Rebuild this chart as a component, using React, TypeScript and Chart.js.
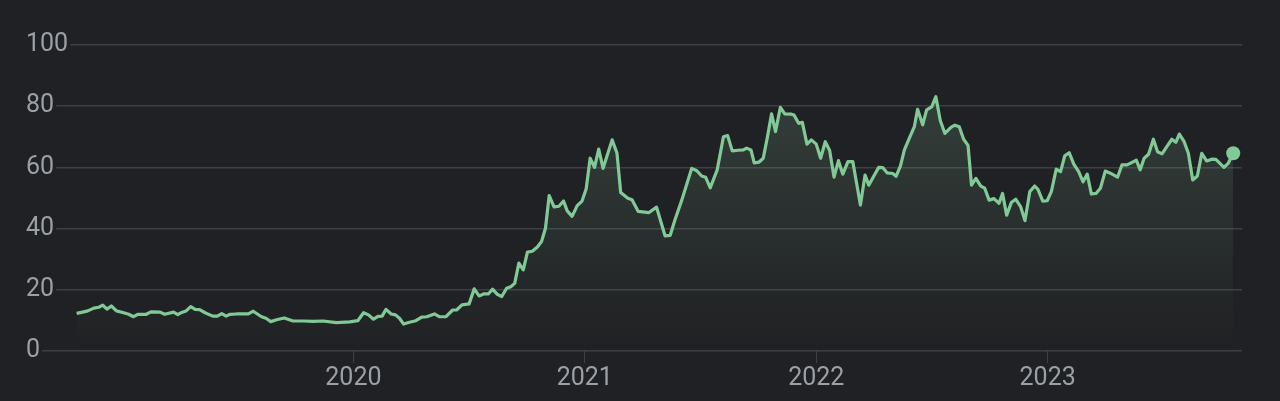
import React, { useEffect, useRef } from "react";
import { Chart, registerables } from "chart.js";

Chart.register(...registerables);

// Decimal-year dates of each observation
const dates: number[] = [
  2018.804, 2018.835, 2018.852, 2018.878, 2018.900, 2018.917, 2018.935, 2018.954, 2018.976, 2019.007,
  2019.029, 2019.050, 2019.068, 2019.105, 2019.125, 2019.165, 2019.184, 2019.223, 2019.241, 2019.258,
  2019.277, 2019.297, 2019.316, 2019.335, 2019.359, 2019.392, 2019.412, 2019.431, 2019.450, 2019.467,
  2019.495, 2019.546, 2019.567, 2019.603, 2019.622, 2019.643, 2019.668, 2019.701, 2019.739, 2019.783,
  2019.826, 2019.869, 2019.926, 2019.984, 2020.019, 2020.044, 2020.065, 2020.087, 2020.106, 2020.124,
  2020.141, 2020.163, 2020.182, 2020.199, 2020.217, 2020.242, 2020.270, 2020.295, 2020.317, 2020.350,
  2020.371, 2020.400, 2020.429, 2020.446, 2020.469, 2020.500, 2020.522, 2020.543, 2020.565, 2020.584,
  2020.601, 2020.622, 2020.641, 2020.662, 2020.680, 2020.697, 2020.715, 2020.734, 2020.752, 2020.773,
  2020.795, 2020.813, 2020.830, 2020.846, 2020.867, 2020.888, 2020.908, 2020.924, 2020.945, 2020.967,
  2020.988, 2021.006, 2021.023, 2021.042, 2021.060, 2021.079, 2021.118, 2021.139, 2021.155, 2021.186,
  2021.204, 2021.231, 2021.276, 2021.310, 2021.347, 2021.369, 2021.390, 2021.419, 2021.462, 2021.484,
  2021.505, 2021.522, 2021.542, 2021.572, 2021.599, 2021.617, 2021.637, 2021.663, 2021.685, 2021.699,
  2021.718, 2021.732, 2021.752, 2021.771, 2021.788, 2021.807, 2021.824, 2021.845, 2021.864, 2021.893,
  2021.904, 2021.924, 2021.940, 2021.960, 2021.979, 2022.000, 2022.019, 2022.039, 2022.058, 2022.077,
  2022.096, 2022.115, 2022.137, 2022.158, 2022.191, 2022.211, 2022.227, 2022.249, 2022.270, 2022.288,
  2022.307, 2022.331, 2022.345, 2022.364, 2022.381, 2022.402, 2022.424, 2022.438, 2022.460, 2022.477,
  2022.499, 2022.517, 2022.536, 2022.556, 2022.582, 2022.599, 2022.618, 2022.637, 2022.656, 2022.671,
  2022.690, 2022.711, 2022.728, 2022.747, 2022.768, 2022.790, 2022.805, 2022.823, 2022.843, 2022.862,
  2022.883, 2022.902, 2022.923, 2022.944, 2022.958, 2022.979, 2022.998, 2023.016, 2023.037, 2023.056,
  2023.074, 2023.093, 2023.113, 2023.134, 2023.153, 2023.171, 2023.189, 2023.209, 2023.228, 2023.249,
  2023.271, 2023.302, 2023.321, 2023.343, 2023.361, 2023.383, 2023.400, 2023.417, 2023.436, 2023.457,
  2023.475, 2023.494, 2023.515, 2023.537, 2023.554, 2023.569, 2023.590, 2023.608, 2023.627, 2023.647,
  2023.666, 2023.687, 2023.709, 2023.727, 2023.762, 2023.780, 2023.802,
];

const prices: number[] = [
  12.3, 12.8, 13.1, 14.0, 14.3, 15.0, 13.7, 14.7, 13.1, 12.5,
  12.0, 11.2, 12.0, 12.0, 12.8, 12.7, 12.0, 12.7, 11.9, 12.6,
  13.1, 14.5, 13.6, 13.5, 12.5, 11.4, 11.4, 12.2, 11.4, 12.0,
  12.1, 12.1, 13.0, 11.2, 10.7, 9.6, 10.2, 10.8, 9.8, 9.8,
  9.7, 9.8, 9.3, 9.5, 9.9, 12.5, 11.8, 10.4, 11.3, 11.4,
  13.6, 12.1, 11.8, 10.7, 8.8, 9.4, 9.9, 11.1, 11.2, 12.1,
  11.2, 11.2, 13.4, 13.4, 15.1, 15.4, 20.3, 18.0, 18.7, 18.7,
  20.2, 18.5, 17.8, 20.5, 21.0, 22.1, 28.7, 26.5, 32.3, 32.6,
  34.0, 35.8, 40.1, 50.8, 47.1, 47.3, 49.0, 45.8, 44.0, 47.5,
  49.0, 53.0, 63.0, 60.0, 66.0, 59.7, 69.0, 64.6, 51.8, 49.9,
  49.4, 45.6, 45.2, 47.0, 37.6, 37.8, 43.0, 49.3, 59.7, 58.9,
  57.2, 56.8, 53.3, 59.2, 70.0, 70.4, 65.4, 65.6, 65.7, 66.3,
  65.7, 61.5, 61.7, 63.0, 69.5, 77.5, 71.7, 79.6, 77.5, 77.4,
  77.1, 74.4, 74.7, 67.6, 69.0, 67.6, 63.0, 68.4, 65.5, 56.8,
  62.2, 57.8, 61.9, 61.9, 47.7, 57.5, 54.2, 57.2, 60.0, 59.9,
  58.2, 58.0, 57.1, 60.5, 65.7, 69.5, 73.3, 79.0, 73.9, 78.8,
  79.8, 83.1, 75.3, 71.1, 73.1, 73.8, 73.3, 69.2, 67.2, 54.2,
  56.4, 53.9, 53.2, 49.3, 49.8, 48.3, 51.5, 44.4, 48.5, 49.6,
  47.2, 42.6, 52.1, 53.9, 52.8, 49.0, 49.1, 52.1, 59.4, 58.6,
  63.8, 64.8, 61.1, 58.6, 55.3, 57.8, 51.3, 51.5, 53.2, 58.8,
  58.1, 56.8, 60.8, 60.8, 61.5, 62.4, 59.2, 63.0, 64.3, 69.2,
  65.1, 64.4, 66.8, 69.2, 68.2, 70.9, 68.4, 64.6, 55.9, 57.2,
  64.6, 62.1, 62.7, 62.6, 60.0, 61.3, 64.6,
];

const yearTicks: number[] = [2020, 2021, 2022, 2023];
const yTicks: number[] = [0, 20, 40, 60, 80, 100];

const BG = "#202124";
const GRID = "#3c4043";
const TEXT = "#9aa0a6";
const LINE = "#81c995";

export default function App() {
  const ref = useRef<HTMLCanvasElement | null>(null);

  useEffect(() => {
    document.body.style.margin = "0";
    document.body.style.background = BG;
    const canvas = ref.current;
    if (!canvas) return;
    const lastIndex = prices.length - 1;
    const chart = new Chart(canvas, {
      type: "line",
      data: {
        datasets: [
          {
            data: dates.map((d, i) => ({ x: d, y: prices[i] })),
            borderColor: LINE,
            borderWidth: 3.2,
            borderJoinStyle: "round",
            tension: 0,
            pointRadius: (ctx: any) => (ctx.dataIndex === lastIndex ? 7 : 0),
            pointBackgroundColor: LINE,
            pointBorderWidth: 0,
            pointHoverRadius: 0,
            fill: "origin",
            backgroundColor: (ctx: any) => {
              const { chart } = ctx;
              const area = chart.chartArea;
              if (!area) return "rgba(129,201,149,0.1)";
              const g = chart.ctx.createLinearGradient(0, area.top, 0, area.bottom);
              g.addColorStop(0, "rgba(145,200,160,0.21)");
              g.addColorStop(1, "rgba(145,200,160,0.0)");
              return g;
            },
          },
        ],
      },
      options: {
        animation: false,
        responsive: false,
        maintainAspectRatio: false,
        events: [],
        layout: { padding: { left: 20, right: 38, top: 45, bottom: 7 } },
        plugins: { legend: { display: false }, tooltip: { enabled: false } },
        scales: {
          x: {
            type: "linear",
            min: 2018.5765,
            max: 2023.8399,
            afterBuildTicks: (axis: any) => {
              axis.ticks = yearTicks.map((v) => ({ value: v }));
            },
            border: { display: false },
            grid: {
              drawOnChartArea: false,
              drawTicks: true,
              tickLength: 12,
              color: GRID,
              lineWidth: 1,
            },
            ticks: {
              color: TEXT,
              padding: 3,
              maxRotation: 0,
              font: { family: "Roboto", size: 25, lineHeight: 1 },
              callback: (v: any) => String(v),
            },
          },
          y: {
            min: 0,
            max: 100,
            afterBuildTicks: (axis: any) => {
              axis.ticks = yTicks.map((v) => ({ value: v }));
            },
            border: { display: false },
            grid: { color: GRID, lineWidth: 1.5, drawTicks: false },
            ticks: {
              mirror: true,
              padding: 2,
              color: TEXT,
              font: { family: "Roboto", size: 25 },
              showLabelBackdrop: true,
              backdropColor: BG,
              backdropPadding: { left: 2, right: 2, top: 0, bottom: 0 },
            },
          },
        },
      },
    } as any);
    return () => chart.destroy();
  }, []);

  return (
    <div style={{ position: "fixed", left: 0, top: 0, width: 1280, height: 401, background: BG }}>
      <canvas ref={ref} width={1280} height={401} style={{ display: "block" }} />
    </div>
  );
}
